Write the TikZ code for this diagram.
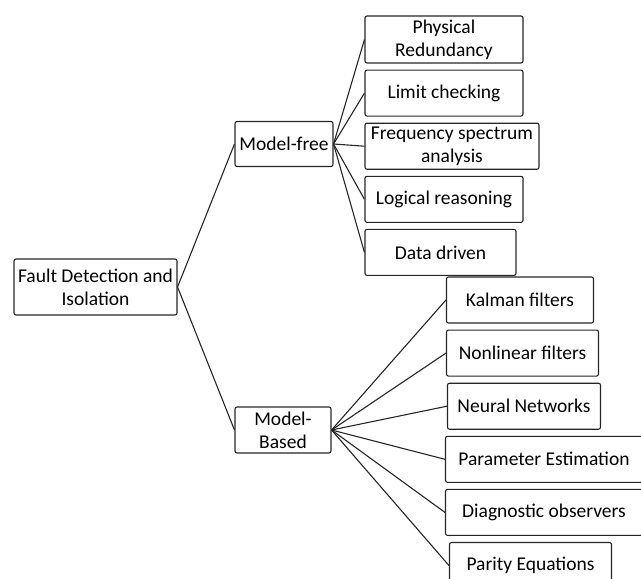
\documentclass[tikz,border=0pt]{standalone}
\usepackage{fontspec}
\setmainfont{Carlito}
\usepackage{tikz}
\usetikzlibrary{positioning}
\tikzstyle{box} = [draw=black!85,line width=1.1pt,rounded corners=2pt,align=center,inner sep=0pt,minimum height=46pt,font=\fontsize{19.5}{23}\selectfont]
\tikzstyle{link} = [draw=black!85,line width=1.1pt]
\begin{document}
\begin{tikzpicture}[x=1pt,y=-1pt]
\useasboundingbox (0,0) rectangle (641,579);
\node[box,minimum width=163pt,minimum height=56pt] (fdi) at (95.5,287) {Fault Detection and\\Isolation};
\node[box,minimum width=98pt,minimum height=45pt] (mfree) at (284,144) {Model-free};
\node[box,minimum width=96pt] (mbased) at (283,430) {Model-\\Based};
\node[box,minimum width=158pt,minimum height=47pt] (phys) at (444,39.5) {Physical\\Redundancy};
\node[box,minimum width=158pt,below=6pt of phys.south west,anchor=north west] (limit) {Limit checking};
\node[box,minimum width=174pt,below=6pt of limit.south west,anchor=north west] (freq) {Frequency spectrum\\analysis};
\node[box,minimum width=158pt,below=6pt of freq.south west,anchor=north west] (logic) {Logical reasoning};
\node[box,minimum width=151pt,below=6pt of logic.south west,anchor=north west] (data) {Data driven};
\node[box,minimum width=147pt] (kalman) at (520,300) {Kalman filters};
\node[box,minimum width=152pt,below=6pt of kalman.south west,anchor=north west] (nonlin) {Nonlinear filters};
\node[box,minimum width=153pt,below=6pt of nonlin.south west,xshift=1pt,anchor=north west] (neural) {Neural Networks};
\node[box,minimum width=197pt,below=6pt of neural.south west,xshift=-2pt,anchor=north west] (param) {Parameter Estimation};
\node[box,minimum width=197pt,below=6pt of param.south west,anchor=north west] (diag) {Diagnostic observers};
\node[box,minimum width=162pt,below=6pt of diag.south west,xshift=4pt,anchor=north west] (parity) {Parity Equations};
\draw[link] (fdi.east) -- (mfree.west);
\draw[link] (fdi.east) -- (mbased.west);
\foreach \leaf in {phys,limit,freq,logic,data}
\draw[link] (mfree.east) -- (\leaf.west);
\foreach \leaf in {kalman,nonlin,neural,param,diag,parity}
\draw[link] (mbased.east) -- (\leaf.west);
\end{tikzpicture}
\end{document}
